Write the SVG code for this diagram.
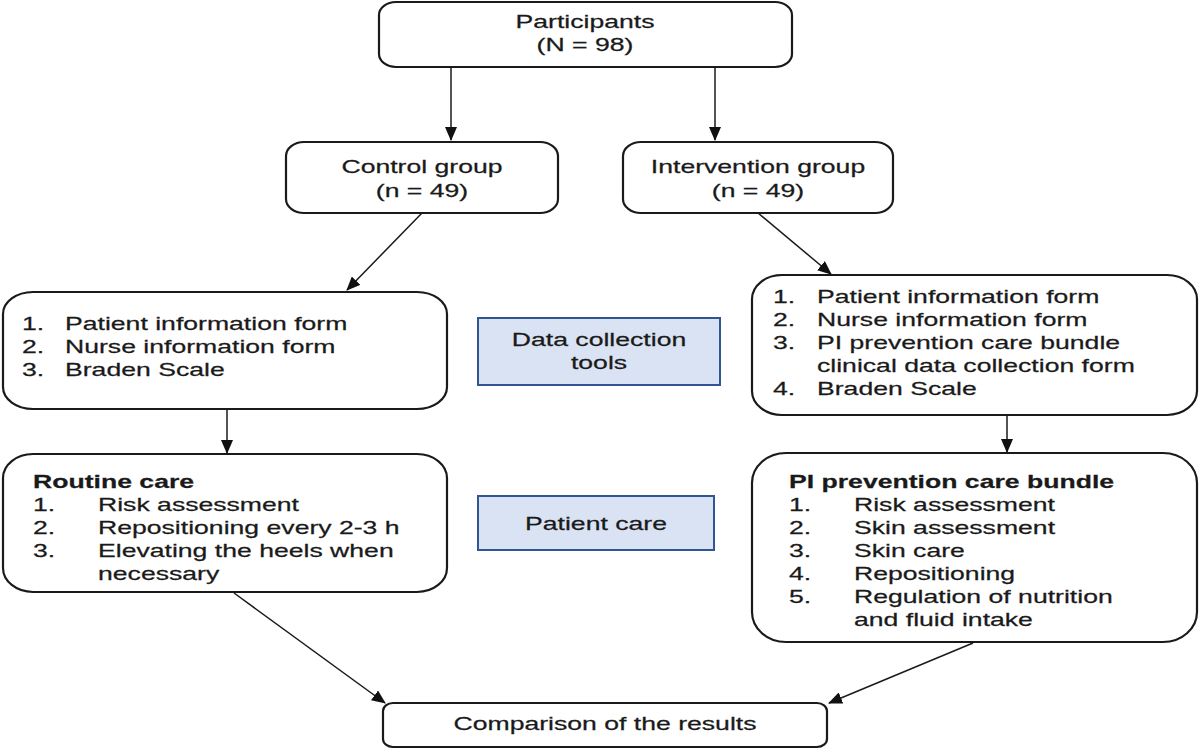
<svg xmlns="http://www.w3.org/2000/svg" width="1200" height="749" viewBox="0 0 1200 749">
<defs>
<marker id="arr" markerUnits="userSpaceOnUse" markerWidth="14" markerHeight="12" refX="13" refY="6" orient="auto">
<path d="M0,0 L14,6 L0,12 Z" fill="#111"/>
</marker>
<style>
.box{fill:#fff;stroke:#1a1a1a;stroke-width:2.2}
.blue{fill:#dae3f3;stroke:#2f5597;stroke-width:2}
.t{font-family:"Liberation Sans",Arial,sans-serif;font-size:19px;fill:#1a1a1a;stroke:#1a1a1a;stroke-width:0.25}
.b{font-weight:bold}
.c{text-anchor:middle}
.ln{stroke:#1a1a1a;stroke-width:1.5;fill:none;marker-end:url(#arr)}
</style>
</defs>
<rect width="1200" height="749" fill="#fff"/>
<g id="participants">
<rect class="box" x="379" y="2" width="413" height="65" rx="17" ry="13"/>
<text class="t c" transform="translate(585,28) scale(1.40,1)">Participants</text>
<text class="t c" transform="translate(585,51) scale(1.40,1)">(N = 98)</text>
</g>
<g id="control">
<rect class="box" x="286" y="142" width="272" height="71" rx="18" ry="14"/>
<text class="t c" transform="translate(422,173) scale(1.40,1)">Control group</text>
<text class="t c" transform="translate(422,197) scale(1.40,1)">(n = 49)</text>
</g>
<g id="intervention">
<rect class="box" x="623" y="142" width="270" height="71" rx="18" ry="14"/>
<text class="t c" transform="translate(758,173) scale(1.40,1)">Intervention group</text>
<text class="t c" transform="translate(758,197) scale(1.40,1)">(n = 49)</text>
</g>
<g id="control-tools">
<rect class="box" x="3" y="292" width="444" height="117" rx="30" ry="22"/>
<text class="t" transform="translate(22,330) scale(1.40,1)">1.</text>
<text class="t" transform="translate(65,330) scale(1.40,1)">Patient information form</text>
<text class="t" transform="translate(22,353) scale(1.40,1)">2.</text>
<text class="t" transform="translate(65,353) scale(1.40,1)">Nurse information form</text>
<text class="t" transform="translate(22,376) scale(1.40,1)">3.</text>
<text class="t" transform="translate(65,376) scale(1.40,1)">Braden Scale</text>
</g>
<g id="data-collection-label">
<rect class="blue" x="478" y="318" width="242" height="67"/>
<text class="t c" transform="translate(599,346) scale(1.40,1)">Data collection</text>
<text class="t c" transform="translate(599,369) scale(1.40,1)">tools</text>
</g>
<g id="intervention-tools">
<rect class="box" x="752" y="275" width="445" height="140" rx="30" ry="24"/>
<text class="t" transform="translate(773,303) scale(1.40,1)">1.</text>
<text class="t" transform="translate(817,303) scale(1.40,1)">Patient information form</text>
<text class="t" transform="translate(773,326) scale(1.40,1)">2.</text>
<text class="t" transform="translate(817,326) scale(1.40,1)">Nurse information form</text>
<text class="t" transform="translate(773,349) scale(1.40,1)">3.</text>
<text class="t" transform="translate(817,349) scale(1.40,1)">PI prevention care bundle</text>
<text class="t" transform="translate(817,372) scale(1.40,1)">clinical data collection form</text>
<text class="t" transform="translate(773,395) scale(1.40,1)">4.</text>
<text class="t" transform="translate(817,395) scale(1.40,1)">Braden Scale</text>
</g>
<g id="routine-care">
<rect class="box" x="3" y="454" width="444" height="138" rx="30" ry="24"/>
<text class="t b" transform="translate(33,488) scale(1.40,1)">Routine care</text>
<text class="t" transform="translate(33,511) scale(1.40,1)">1.</text>
<text class="t" transform="translate(98,511) scale(1.40,1)">Risk assessment</text>
<text class="t" transform="translate(33,534) scale(1.40,1)">2.</text>
<text class="t" transform="translate(98,534) scale(1.40,1)">Repositioning every 2-3 h</text>
<text class="t" transform="translate(33,557) scale(1.40,1)">3.</text>
<text class="t" transform="translate(98,557) scale(1.40,1)">Elevating the heels when</text>
<text class="t" transform="translate(98,580) scale(1.40,1)">necessary</text>
</g>
<g id="patient-care-label">
<rect class="blue" x="478" y="496" width="236" height="54"/>
<text class="t c" transform="translate(596,530) scale(1.40,1)">Patient care</text>
</g>
<g id="pi-bundle">
<rect class="box" x="752" y="453" width="445" height="189" rx="34" ry="30"/>
<text class="t b" transform="translate(789,488) scale(1.40,1)">PI prevention care bundle</text>
<text class="t" transform="translate(789,511) scale(1.40,1)">1.</text>
<text class="t" transform="translate(854,511) scale(1.40,1)">Risk assessment</text>
<text class="t" transform="translate(789,534) scale(1.40,1)">2.</text>
<text class="t" transform="translate(854,534) scale(1.40,1)">Skin assessment</text>
<text class="t" transform="translate(789,557) scale(1.40,1)">3.</text>
<text class="t" transform="translate(854,557) scale(1.40,1)">Skin care</text>
<text class="t" transform="translate(789,580) scale(1.40,1)">4.</text>
<text class="t" transform="translate(854,580) scale(1.40,1)">Repositioning</text>
<text class="t" transform="translate(789,603) scale(1.40,1)">5.</text>
<text class="t" transform="translate(854,603) scale(1.40,1)">Regulation of nutrition</text>
<text class="t" transform="translate(854,626) scale(1.40,1)">and fluid intake</text>
</g>
<g id="comparison">
<rect class="box" x="383" y="703" width="444" height="44" rx="10" ry="8"/>
<text class="t c" transform="translate(605,730) scale(1.40,1)">Comparison of the results</text>
</g>
<g id="connectors">
<line class="ln" x1="451" y1="67" x2="451" y2="140"/>
<line class="ln" x1="715" y1="67" x2="715" y2="140"/>
<line class="ln" x1="422" y1="213" x2="347" y2="290"/>
<line class="ln" x1="758" y1="213" x2="831" y2="274"/>
<line class="ln" x1="227" y1="409" x2="227" y2="453"/>
<line class="ln" x1="1007" y1="415" x2="1007" y2="452"/>
<line class="ln" x1="234" y1="593" x2="385" y2="703"/>
<line class="ln" x1="973" y1="643" x2="829" y2="703"/>
</g>
</svg>
